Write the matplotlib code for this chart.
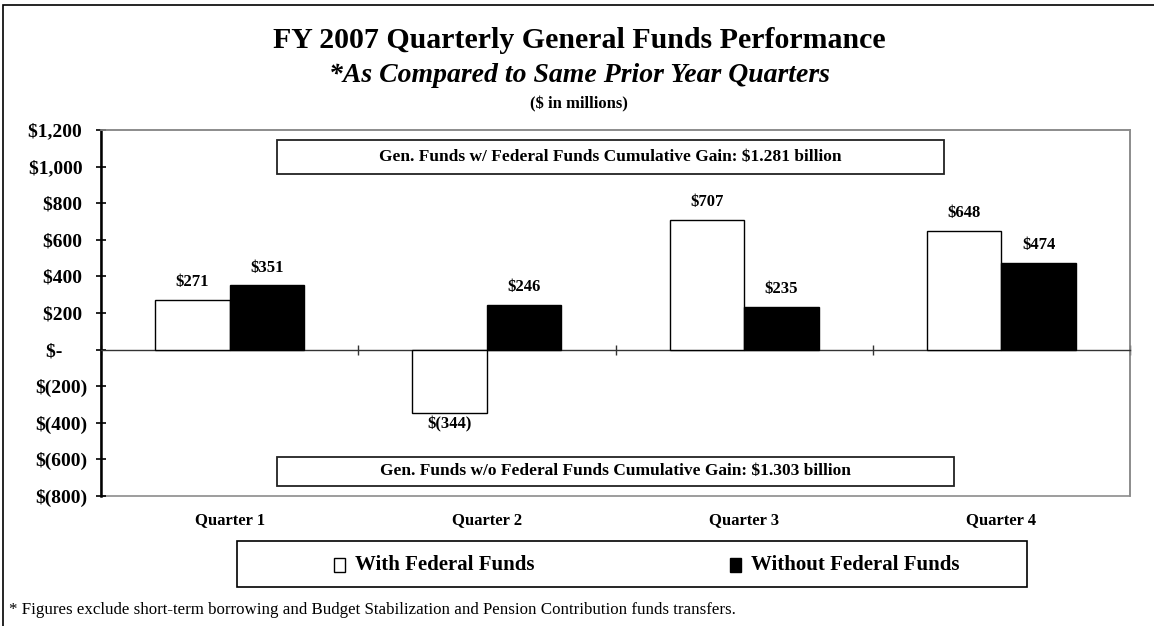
import matplotlib
matplotlib.use("Agg")
import matplotlib.pyplot as plt
from matplotlib.patches import Rectangle
from matplotlib.ticker import FuncFormatter, FixedLocator
import numpy as np

# Quarterly change in general funds vs. same prior-year quarter ($ millions)
quarters = ["Quarter 1", "Quarter 2", "Quarter 3", "Quarter 4"]
with_federal = [271, -344, 707, 648]
without_federal = [351, 246, 235, 474]
series_names = ["With Federal Funds", "Without Federal Funds"]
y_ticks = [-800, -600, -400, -200, 0, 200, 400, 600, 800, 1000, 1200]
gain_with = "Gen. Funds w/ Federal Funds Cumulative Gain: $1.281 billion"
gain_without = "Gen. Funds w/o Federal Funds Cumulative Gain: $1.303 billion"
footnote = ("* Figures exclude short-term borrowing and Budget Stabilization "
            "and Pension Contribution funds transfers.")

plt.rcParams["font.family"] = ["Liberation Serif", "DejaVu Serif"]
W, H = 1154, 626
fig = plt.figure(figsize=(W / 100, H / 100), dpi=100)

# outer frame (top and left edges visible)
fig.patches.append(Rectangle((3 / W, -0.05), 1.2, 1 - 5 / H + 0.05,
                             transform=fig.transFigure, fill=False,
                             edgecolor="black", linewidth=1.2, zorder=0))

ax = fig.add_axes([101 / W, 1 - 496 / H, (1130 - 101) / W, (496 - 130) / H])
ax.set_xlim(-0.5, len(quarters) - 0.5)
ax.set_ylim(y_ticks[0], y_ticks[-1])

x = np.arange(len(quarters))
bw = 0.29
ax.bar(x - bw / 2, with_federal, bw, color="white", edgecolor="black",
       linewidth=1.0, zorder=3)
ax.bar(x + bw / 2, without_federal, bw, color="black", edgecolor="black",
       linewidth=1.0, zorder=3)


def money(v):
    return f"${v:,}" if v >= 0 else f"$({-v:,})"


def tick_label(v, pos):
    v = int(round(v))
    if v == 0:
        return "$-     "
    return money(v) + ("" if v < 0 else " ")


for xi, v in zip(x - bw / 2, with_federal):
    off = 7 if v >= 0 else -3
    ax.annotate(money(v), (xi, v), xytext=(0, off), textcoords="offset points",
                ha="center", va="bottom" if v >= 0 else "top",
                fontsize=12, fontweight="bold", zorder=4)
for xi, v in zip(x + bw / 2, without_federal):
    ax.annotate(money(v), (xi, v), xytext=(0, 7), textcoords="offset points",
                ha="center", va="bottom", fontsize=12, fontweight="bold",
                zorder=4)

# y axis
ax.yaxis.set_major_locator(FixedLocator(y_ticks))
ax.yaxis.set_major_formatter(FuncFormatter(tick_label))
ax.tick_params(axis="y", direction="inout", length=7, width=1.2,
               labelsize=14, pad=6.5)
for lab in ax.get_yticklabels():
    lab.set_fontweight("bold")

# horizontal axis at zero with ticks between categories
ax.spines["bottom"].set_position(("data", 0))
ax.spines["bottom"].set_linewidth(1.0)
ax.spines["bottom"].set_color("#333333")
ax.xaxis.set_major_locator(FixedLocator(np.arange(len(quarters) + 1) - 0.5))
ax.xaxis.set_major_formatter(FuncFormatter(lambda v, p: ""))
ax.tick_params(axis="x", direction="inout", length=7, width=1.0,
               color="#333333")
ax.spines["left"].set_linewidth(1.8)
for s in ["top", "right"]:
    ax.spines[s].set_color("#8c8c8c")
    ax.spines[s].set_linewidth(1.2)

# gray plot-area frame on the bottom
ax.add_patch(Rectangle((0, 0), 1, 1, transform=ax.transAxes, fill=False,
                       edgecolor="#8c8c8c", linewidth=1.2, zorder=0,
                       clip_on=False))

for xi, q in zip(x, quarters):
    ax.text(xi, -0.065, q, transform=ax.get_xaxis_transform(), ha="center",
            va="center", fontsize=12, fontweight="bold")

# cumulative gain boxes
for (x0, x1, y0, y1, txt) in [(0.183, 2.777, 960, 1148, gain_with),
                              (0.183, 2.816, -743, -585, gain_without)]:
    ax.add_patch(Rectangle((x0, y0), x1 - x0, y1 - y0, facecolor="white",
                           edgecolor="#222222", linewidth=1.3, zorder=2))
    ax.text((x0 + x1) / 2, (y0 + y1) / 2, txt, ha="center", va="center",
            fontsize=12.5, fontweight="bold", zorder=3)

# titles
cx = 579 / W
fig.text(cx, 1 - 40 / H, "FY 2007 Quarterly General Funds Performance",
         ha="center", va="center", fontsize=21.5, fontweight="bold")
fig.text(cx, 1 - 76 / H, "*As Compared to Same Prior Year Quarters",
         ha="center", va="center", fontsize=20, fontweight="bold",
         style="italic")
fig.text(cx, 1 - 104 / H, "($ in millions)", ha="center", va="center",
         fontsize=12, fontweight="bold")

# legend box
fig.patches.append(Rectangle((237 / W, 1 - 587 / H), (1027 - 237) / W,
                             (587 - 541) / H, transform=fig.transFigure,
                             facecolor="white", edgecolor="black",
                             linewidth=1.2))
ly = 1 - 565 / H
for sx, fc, name in [(340, "white", series_names[0]),
                     (736, "black", series_names[1])]:
    fig.patches.append(Rectangle(((sx - 6) / W, ly - 7 / H), 11 / W, 14 / H,
                                 transform=fig.transFigure, facecolor=fc,
                                 edgecolor="black", linewidth=1.0))
    fig.text((sx + 15) / W, ly, name, ha="left", va="center", fontsize=15,
             fontweight="bold")

fig.text(9 / W, 1 - 610 / H, footnote, ha="left", va="center", fontsize=12.2)

fig.savefig("out.png", dpi=100)
